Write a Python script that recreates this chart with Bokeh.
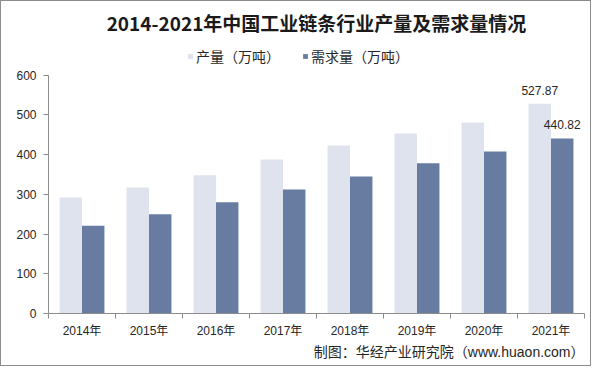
import numpy as np
from bokeh.plotting import figure
from bokeh.models import (Legend, LegendItem, Title, FixedTicker, Range1d, ColumnDataSource)
from bokeh.core.properties import value
from bokeh.embed import file_html
from bokeh.resources import INLINE

# ---- data ----
years = ["2014年", "2015年", "2016年", "2017年", "2018年", "2019年", "2020年", "2021年"]
production = [292, 317, 348, 388, 423, 453, 481, 527.87]
demand = [221, 250, 280, 312, 345, 378, 408, 440.82]
y_ticks = [0, 100, 200, 300, 400, 500, 600]
title_text = "2014-2021年中国工业链条行业产量及需求量情况"
series_names = ["产量（万吨）", "需求量（万吨）"]
source_text = "制图：华经产业研究院（www.huaon.com）"

LIGHT = "#DEE3ED"
DARK = "#687CA2"
AXIS = "#8C8C8C"
TXT = "#262626"
FONT = "Liberation Sans, Noto Sans CJK SC"
CJK = "Noto Sans CJK SC"

n = len(years)
centers = np.arange(n) + 0.5
bw = 0.335

# frame: top at 36px below figure top, axis 0 at 312px; 600 should sit at 73.7px
frame_top, frame_zero, frame_600 = 36, 312, 73.7
y_end = y_ticks[-1] * (frame_zero - frame_top) / (frame_zero - frame_600)

src = ColumnDataSource(dict(
    xp=centers - bw / 2, xd=centers + bw / 2,
    prod=production, dem=demand,
))

p = figure(width=591, height=366, output_backend="svg", toolbar_location=None,
           x_range=Range1d(0, n), y_range=Range1d(y_ticks[0], y_end),
           min_border_left=47, min_border_right=8, min_border_top=frame_top,
           min_border_bottom=366 - frame_zero)
p.styles = {"border": "1px solid #8C8C8C"}
p.outline_line_color = None
p.xgrid.visible = False
p.ygrid.visible = False

r1 = p.vbar(x="xp", top="prod", width=bw, source=src, fill_color=LIGHT, line_color=None)
r2 = p.vbar(x="xd", top="dem", width=bw, source=src, fill_color=DARK, line_color=None)

# value labels for the last year
last = ColumnDataSource(dict(
    x=[centers[-1] - bw / 2, centers[-1] + bw / 2],
    y=[production[-1], demand[-1]],
    t=[f"{production[-1]:.2f}", f"{demand[-1]:.2f}"],
))
p.text(x="x", y="y", text="t", source=last, text_align="center", text_baseline="bottom",
       y_offset=-9, text_font_size="12px", text_color=TXT, text_font=value(FONT))

# axes
xa = p.xaxis[0]
xa.ticker = FixedTicker(ticks=list(centers), minor_ticks=list(np.arange(n + 1)))
xa.major_label_overrides = {float(c): y for c, y in zip(centers, years)}
xa.major_tick_out = 0
xa.major_tick_in = 0
xa.minor_tick_out = 5
xa.minor_tick_in = 0
xa.minor_tick_line_color = AXIS
xa.axis_line_color = AXIS
xa.major_label_text_font = FONT
xa.major_label_text_font_size = "12px"
xa.major_label_text_color = TXT
xa.major_label_standoff = 5

ya = p.yaxis[0]
ya.ticker = FixedTicker(ticks=y_ticks, minor_ticks=[])
ya.bounds = (y_ticks[0], y_ticks[-1])
ya.major_tick_out = 5
ya.major_tick_in = 0
ya.major_tick_line_color = AXIS
ya.axis_line_color = AXIS
ya.minor_tick_line_color = None
ya.major_label_text_font = FONT
ya.major_label_text_font_size = "12px"
ya.major_label_text_color = TXT
ya.major_label_standoff = 7

# legend (inside the frame, above the 600 line)
legend = Legend(items=[LegendItem(label=series_names[0], renderers=[r1]),
                       LegendItem(label=series_names[1], renderers=[r2])],
                orientation="horizontal", location=(139, 247),
                glyph_width=6, glyph_height=6, label_text_font_size="14px",
                label_text_font=CJK, label_text_color=TXT, label_standoff=3,
                spacing=22, padding=0, margin=0, border_line_color=None,
                background_fill_color=None, background_fill_alpha=0)
p.add_layout(legend, "center")

# title
p.title.text = title_text
p.title.align = "center"
p.title.text_font = CJK
p.title.text_font_size = "19px"
p.title.text_font_style = "bold"
p.title.text_color = "#1a1a1a"
p.title.standoff = 4

src_title = Title(text=source_text, align="right", text_font=FONT, text_font_size="14px",
                  text_font_style="normal", text_color=TXT, standoff=2)
p.add_layout(src_title, "below")

open("out.html", "w").write(file_html(p, INLINE))
